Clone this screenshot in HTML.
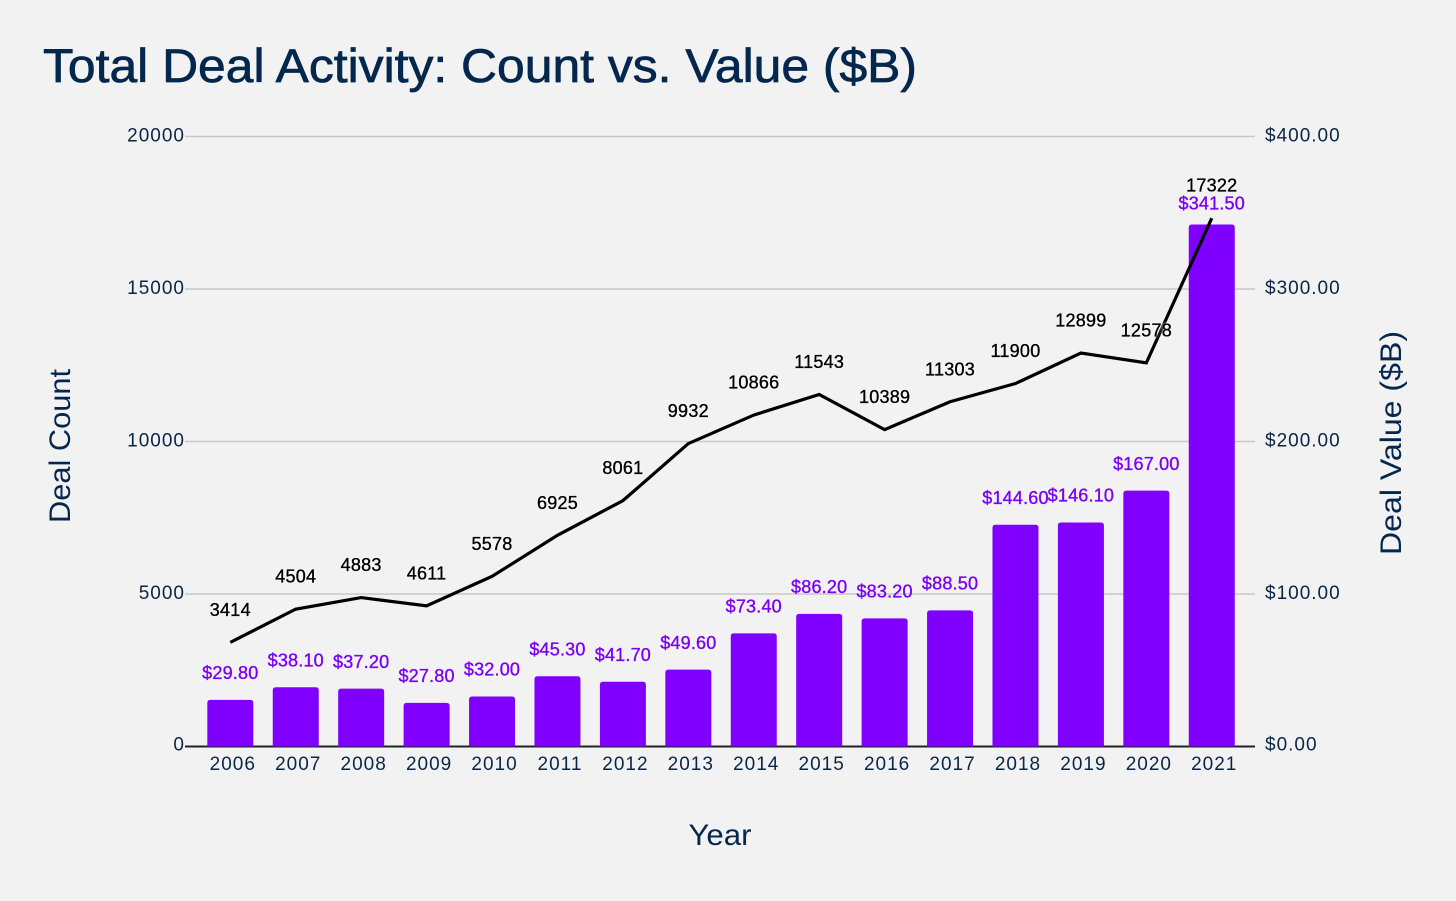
<!DOCTYPE html>
<html lang="en">
<head>
<meta charset="utf-8">
<title>Total Deal Activity: Count vs. Value ($B)</title>
<style>
html,body{margin:0;padding:0;background:#f2f2f2;}
svg{display:block;}
text{font-family:"Liberation Sans",sans-serif;}
.axis{fill:#0b2545;font-size:19px;letter-spacing:1px;}
.title{fill:#04274d;font-size:47px;stroke:#04274d;stroke-width:.7px;}
.axt{fill:#04274d;font-size:30px;}
.cnt{fill:#000;font-size:18px;letter-spacing:.25px;stroke:#000;stroke-width:.35px;filter:drop-shadow(0 0 1.5px #fff);}
.val{fill:#7a00f5;font-size:18px;letter-spacing:.2px;stroke:#7a00f5;stroke-width:.35px;}
</style>
</head>
<body>
<svg id="chart" xmlns="http://www.w3.org/2000/svg" width="1456" height="901" viewBox="0 0 1456 901">
<rect width="1456" height="901" fill="#f2f2f2"/>
<text class="title" x="43" y="82" textLength="874" lengthAdjust="spacingAndGlyphs">Total Deal Activity: Count vs. Value ($B)</text>
<text class="axt" transform="translate(70,446) rotate(-90)" text-anchor="middle" textLength="154" lengthAdjust="spacingAndGlyphs">Deal Count</text>
<text class="axt" transform="translate(1401,443) rotate(-90)" text-anchor="middle" textLength="224" lengthAdjust="spacingAndGlyphs">Deal Value ($B)</text>
<text class="axt" x="720" y="845" text-anchor="middle" textLength="63" lengthAdjust="spacingAndGlyphs">Year</text>
<g id="grid"></g>
<g id="bars"></g>
<g id="line"></g>
<g id="labels"></g>
</svg>
<script>
const years = [2006,2007,2008,2009,2010,2011,2012,2013,2014,2015,2016,2017,2018,2019,2020,2021];
const dealCount = [3414,4504,4883,4611,5578,6925,8061,9932,10866,11543,10389,11303,11900,12899,12578,17322];
const dealValue = [29.8,38.1,37.2,27.8,32.0,45.3,41.7,49.6,73.4,86.2,83.2,88.5,144.6,146.1,167.0,341.5];
const countTicks = [0,5000,10000,15000,20000];
const valueTicks = [0,100,200,300,400];

const NS = 'http://www.w3.org/2000/svg';
const plotTop = 136.5, plotBottom = 746.5, plotLeft = 185, plotRight = 1255;
const bandStart = 197.6, bandStep = 65.43, barWidth = 46;
const xCenter = i => bandStart + bandStep * (i + 0.5);
const yCount = v => plotBottom - (v / 20000) * (plotBottom - plotTop);
const yValue = v => plotBottom - (v / 400) * (plotBottom - plotTop);
const money = v => '$' + v.toFixed(2);

function make(tag, parent, attrs, txt) {
  const el = document.createElementNS(NS, tag);
  for (const k in attrs) el.setAttribute(k, attrs[k]);
  if (txt !== undefined) el.textContent = txt;
  document.getElementById(parent).appendChild(el);
  return el;
}

countTicks.forEach((t, i) => {
  const y = yCount(t);
  const gl = make('line', 'grid', {x1: plotLeft, x2: plotRight, y1: y, y2: y, stroke: i === 0 ? '#222' : '#c8c8c8', 'stroke-width': i === 0 ? 2 : 1.6});
  
  
  const lt = make('text', 'grid', {class: 'axis', x: 185, y: y + (i === 0 ? 4 : 5), 'text-anchor': 'end'}, String(t));
  
  
});
valueTicks.forEach((t, i) => {
  const rt = make('text', 'grid', {class: 'axis', x: 1265, y: yValue(t) + (i === 0 ? 4 : 5)}, money(t));
  
  
});

years.forEach((yr, i) => {
  const cx = xCenter(i), top = yValue(dealValue[i]) - 1.2;
  const h = plotBottom - top, r = Math.min(3, h);
  const b = make('path', 'bars', {
    d: 'M' + (cx - barWidth / 2) + ' ' + plotBottom + 'V' + (top + r) + 'q0 ' + (-r) + ' ' + r + ' ' + (-r) +
       'H' + (cx + barWidth / 2 - r) + 'q' + r + ' 0 ' + r + ' ' + r + 'V' + plotBottom + 'Z',
    fill: '#7f00ff'
  });
  
  
  const xl = make('text', 'grid', {class: 'axis', x: cx + 2.5, y: 770, 'text-anchor': 'middle'}, String(yr));
  
  
});

const pts = dealCount.map((c, i) => xCenter(i) + ',' + yCount(c)).join(' ');
const ln = make('polyline', 'line', {points: pts, fill: 'none', stroke: '#000', 'stroke-width': 3.2, 'stroke-linejoin': 'miter'});



years.forEach((yr, i) => {
  const cx = xCenter(i);
  const countY = yCount(dealCount[i]) - 26.5;
  const c = make('text', 'labels', {class: 'cnt', x: cx, y: countY, 'text-anchor': 'middle'}, String(dealCount[i]));
  
  
  const valY = Math.max(yValue(dealValue[i]) - 22, yCount(17322) - 8.5);
  const v = make('text', 'labels', {class: 'val', x: cx, y: valY, 'text-anchor': 'middle'}, money(dealValue[i]));
  
  
});
</script>
</body>
</html>
